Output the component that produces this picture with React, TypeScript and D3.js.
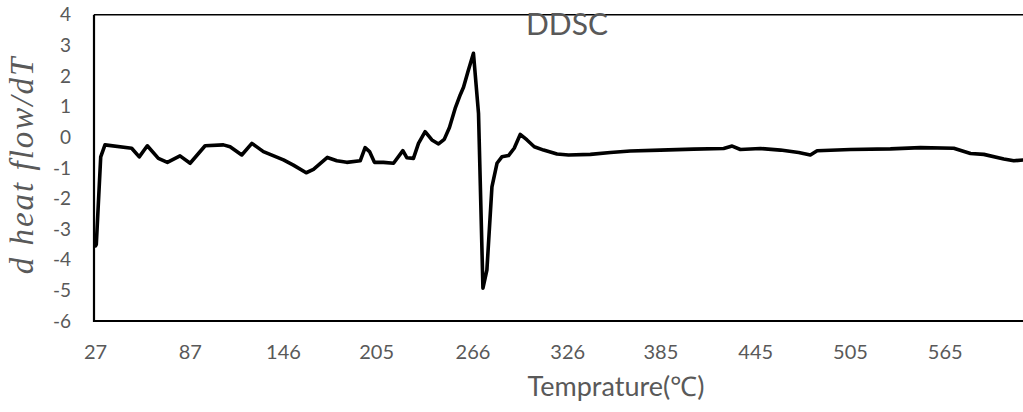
import * as d3 from 'd3';
import { useEffect, useRef } from 'react';

// temperatures (°C) and d heat flow/dT
const temps = [
  27, 27.5, 30.3, 33, 49.9, 54.7, 59.8, 66.8, 72.5, 80.5, 86.9, 96.4, 108, 112.2,
  119.6, 126, 133.3, 146, 152.3, 160.4, 165, 173.8, 179.8, 186.1, 194.6, 197.7,
  200.5, 203.6, 209.3, 215.7, 221.6, 224.1, 228.3, 231.5, 235.7, 240, 244.2,
  247.8, 251.1, 254.7, 257.9, 260, 262.8, 266.3, 269.5, 272.3, 274.8, 278,
  281.2, 284.3, 288.5, 292.1, 295.9, 300.2, 304.8, 310.7, 319.2, 326.5, 340.3,
  353, 365.6, 384.6, 405.7, 424.7, 430.1, 435.3, 448, 460.7, 472.2, 479.6,
  483.9, 505, 530.3, 549.3, 570.4, 581, 589.4, 602.1, 608.4, 614.6, 625,
];
const ddsc = [
  -3.55, -3.5, -0.64, -0.25, -0.36, -0.64, -0.28, -0.69, -0.82, -0.61, -0.85,
  -0.28, -0.25, -0.31, -0.58, -0.2, -0.47, -0.74, -0.91, -1.16, -1.05, -0.66,
  -0.77, -0.82, -0.77, -0.34, -0.47, -0.82, -0.82, -0.85, -0.44, -0.67, -0.69,
  -0.2, 0.18, -0.09, -0.22, -0.07, 0.32, 0.94, 1.38, 1.63, 2.14, 2.74, 0.78,
  -4.93, -4.34, -1.62, -0.85, -0.64, -0.6, -0.36, 0.09, -0.09, -0.31, -0.42,
  -0.55, -0.58, -0.56, -0.5, -0.45, -0.42, -0.39, -0.37, -0.29, -0.4, -0.37,
  -0.42, -0.5, -0.58, -0.44, -0.4, -0.38, -0.34, -0.36, -0.53, -0.56, -0.71,
  -0.77, -0.74, -0.8,
];
const xTickLabels = [27, 87, 146, 205, 266, 326, 385, 445, 505, 565];
const yTickLabels = [-6, -5, -4, -3, -2, -1, 0, 1, 2, 3, 4];

const width = 1023;
const height = 412;
const margin = { top: 14.7, left: 94, bottom: 91, plotRight: 1040 };
const grey = '#595959';
const sans = 'Lato, "Open Sans", sans-serif';

export default function App() {
  const ref = useRef<SVGSVGElement | null>(null);

  useEffect(() => {
    const svg = d3.select(ref.current);
    svg.selectAll('*').remove();

    const x = d3
      .scaleLinear()
      .domain([27, 625])
      .range([95.5, margin.plotRight]);
    const y = d3
      .scaleLinear()
      .domain([-6, 4])
      .range([height - margin.bottom, margin.top]);

    // frame: top border thinner than the two axes
    svg
      .append('line')
      .attr('x1', margin.left)
      .attr('x2', margin.plotRight)
      .attr('y1', margin.top)
      .attr('y2', margin.top)
      .attr('stroke', '#000')
      .attr('stroke-width', 1.5);
    svg
      .append('path')
      .attr(
        'd',
        `M${margin.left},${margin.top}V${y(-6)}H${margin.plotRight}`,
      )
      .attr('fill', 'none')
      .attr('stroke', '#000')
      .attr('stroke-width', 2.2);

    // y tick labels
    svg
      .append('g')
      .selectAll('text')
      .data(yTickLabels)
      .enter()
      .append('text')
      .attr('x', 71)
      .attr('y', (d) => y(d))
      .attr('dy', '0.35em')
      .attr('text-anchor', 'end')
      .attr('fill', grey)
      .style('font-family', sans)
      .style('font-size', '19px')
      .text((d) => d);

    // x tick labels
    svg
      .append('g')
      .selectAll('text')
      .data(xTickLabels)
      .enter()
      .append('text')
      .attr('x', (d) => x(d))
      .attr('y', 359)
      .attr('text-anchor', 'middle')
      .attr('fill', grey)
      .style('font-family', sans)
      .style('font-size', '20px')
      .text((d) => d);

    // the curve
    const line = d3
      .line<number>()
      .x((d, i) => x(temps[i]))
      .y((d) => y(d));
    svg
      .append('path')
      .datum(ddsc)
      .attr('d', line)
      .attr('fill', 'none')
      .attr('stroke', '#000')
      .attr('stroke-width', 3.6)
      .attr('stroke-linejoin', 'round')
      .attr('stroke-linecap', 'round');

    // title
    svg
      .append('text')
      .text('DDSC')
      .attr('x', 567)
      .attr('y', 35)
      .attr('text-anchor', 'middle')
      .attr('fill', grey)
      .style('font-family', sans)
      .style('font-size', '30px');

    // axis titles
    svg
      .append('text')
      .text('Temprature(℃)')
      .attr('x', 616)
      .attr('y', 396)
      .attr('text-anchor', 'middle')
      .attr('fill', grey)
      .style('font-family', sans)
      .style('font-size', '27px');

    svg
      .append('text')
      .text('d heat flow/dT')
      .attr('transform', 'translate(33,165) rotate(-90)')
      .attr('text-anchor', 'middle')
      .attr('fill', grey)
      .style('font-family', '"Liberation Serif", "DejaVu Serif", serif')
      .style('font-style', 'italic')
      .style('font-size', '33px')
      .style('letter-spacing', '2px');
  }, []);

  return (
    <svg
      ref={ref}
      width={width}
      height={height}
      style={{ position: 'absolute', left: 0, top: 0, overflow: 'hidden', background: '#fff' }}
    />
  );
}
